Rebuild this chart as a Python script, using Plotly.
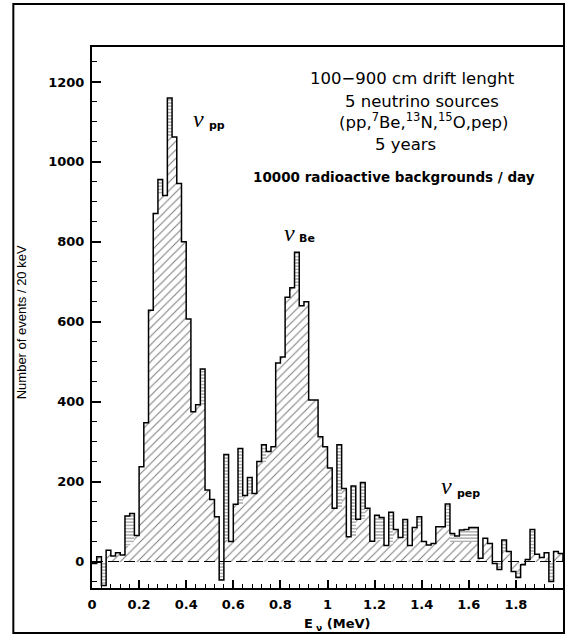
import plotly.graph_objects as go

# ---------------- data ----------------
bin_width = 0.02
bin_start = 0.0
# number of events per 20 keV bin (outline histogram)
total_counts = [-5, 12, -60, 28, 14, 22, 16, 114, 120, 65,
                237, 347, 629, 871, 956, 916, 1160, 1062, 946, 800,
                607, 375, 392, 482, 179, 155, 112, -46, 268, 50,
                143, 283, 165, 210, 170, 250, 292, 275, 287, 497,
                512, 661, 685, 774, 640, 650, 404, 404, 312, 287,
                234, 133, 292, 183, 62, 189, 106, 198, 133, 51,
                116, 110, 40, 123, 80, 60, 105, 40, 85, 112,
                50, 41, 45, 87, 87, 144, 70, 64, 79, 80,
                85, 85, 8, 58, 45, -5, -20, 54, 25, -25,
                -40, -8, 5, 80, 18, 10, 22, -50, 25, 20]
# level of the diagonally hatched part of each bin
diag_counts = [0, 12, 0, 28, 14, 22, 16, 40, 45, 65,
               237, 347, 629, 871, 916, 916, 1062, 1062, 946, 800,
               607, 375, 392, 392, 179, 155, 112, 0, 55, 50,
               143, 143, 165, 165, 170, 250, 250, 275, 287, 497,
               512, 661, 685, 685, 640, 650, 404, 404, 312, 287,
               234, 133, 133, 183, 62, 62, 106, 106, 133, 51,
               55, 55, 40, 45, 80, 60, 60, 40, 85, 85,
               50, 41, 45, 87, 87, 87, 50, 50, 50, 50,
               50, 50, 8, 58, 45, 0, 0, 25, 25, -25,
               -25, 0, 5, 20, 18, 10, 22, 0, 25, 20]
x_tick_vals = [0, 0.2, 0.4, 0.6, 0.8, 1.0, 1.2, 1.4, 1.6, 1.8]
x_tick_text = ["0", "0.2", "0.4", "0.6", "0.8", "1", "1.2", "1.4", "1.6", "1.8"]
y_tick_vals = [0, 200, 400, 600, 800, 1000, 1200]
y_tick_text = ["0", "200", "400", "600", "800", "1000", "1200"]

n = len(total_counts)
edges = [round(bin_start + i * bin_width, 4) for i in range(n + 1)]
centers = [round(e + bin_width / 2, 4) for e in edges[:-1]]

def clip_diag(d, s):
    if d >= 0:
        return max(0, min(s, d))
    return min(0, max(s, d))

diag_shown = [clip_diag(d, s) for d, s in zip(total_counts, diag_counts)]

# ---------------- geometry (pixels) ----------------
W, H = 568, 636
L, R, T, B = 92, 565, 47, 588

def px(x):
    return (x - L) / (R - L)

def py(y):
    return (B - y) / (B - T)

fig = go.Figure()

fig.add_trace(go.Bar(
    x=centers, y=total_counts, width=bin_width,
    marker=dict(color="white", line=dict(width=0),
                pattern=dict(shape="-", fgcolor="black", bgcolor="white",
                             size=3.2, solidity=0.3, fillmode="overlay")),
    hoverinfo="skip", showlegend=False))

fig.add_trace(go.Bar(
    x=centers, y=diag_shown, width=bin_width,
    marker=dict(color="white", line=dict(width=0),
                pattern=dict(shape="/", fgcolor="black", bgcolor="white",
                             size=6, solidity=0.18, fillmode="overlay")),
    hoverinfo="skip", showlegend=False))

# zero dashed line
fig.add_trace(go.Scatter(
    x=[edges[0], edges[-1]], y=[0, 0], mode="lines",
    line=dict(color="black", width=1, dash="11px,5px"),
    hoverinfo="skip", showlegend=False))

# histogram outline
ox = [edges[0]] + edges[:-1] + [edges[-1], edges[-1]]
oy = [0] + total_counts + [total_counts[-1], 0]
fig.add_trace(go.Scatter(
    x=ox, y=oy, mode="lines", line=dict(color="black", width=1.5, shape="hv"),
    hoverinfo="skip", showlegend=False))

tick_font = dict(family="DejaVu Sans", size=13, color="black", weight="bold")

fig.update_layout(
    width=W, height=H,
    margin=dict(l=L, r=W - R, t=T, b=H - B),
    paper_bgcolor="white", plot_bgcolor="white",
    barmode="overlay", bargap=0,
    xaxis=dict(range=[0, 2.0], tickvals=x_tick_vals, ticktext=x_tick_text,
               ticks="inside", ticklen=8, tickwidth=1.5, tickcolor="black",
               minor=dict(dtick=0.04, tick0=0, ticks="inside", ticklen=4,
                          tickwidth=1, tickcolor="black"),
               showline=True, linewidth=2, linecolor="black", mirror=True,
               showgrid=False, zeroline=False, tickfont=tick_font,
               ticklabelstandoff=3),
    yaxis=dict(range=[-66.3, 1287.5], tickvals=y_tick_vals, ticktext=y_tick_text,
               ticks="inside", ticklen=9, tickwidth=1.5, tickcolor="black",
               minor=dict(dtick=50, tick0=0, ticks="inside", ticklen=5,
                          tickwidth=1, tickcolor="black"),
               showline=True, linewidth=2, linecolor="black", mirror=True,
               showgrid=False, zeroline=False, tickfont=tick_font,
               ticklabelstandoff=3),
)

ann = []

def add_text(text, x, y, size, family="DejaVu Sans", bold=False, xanchor="center",
             italic=False):
    ann.append(dict(text=text, x=px(x), y=py(y), xref="paper", yref="paper",
                    showarrow=False, xanchor=xanchor, yanchor="middle",
                    font=dict(family=family, size=size, color="black",
                              weight="bold" if bold else "normal",
                              style="italic" if italic else "normal")))

add_text("100\u2212900 cm drift lenght", 414, 79, 16.5)
add_text("5 neutrino sources", 423, 101, 16.5)
add_text("(pp,<sup>7</sup>Be,<sup>13</sup>N,<sup>15</sup>O,pep)", 425, 121, 16.5)
add_text("5 years", 407, 144, 16.5)
add_text("10000 radioactive backgrounds / day", 252, 177, 13.5, bold=True,
         xanchor="left")

# neutrino labels
add_text("\u03bd", 199, 119, 24, family="Liberation Serif", italic=True)
add_text("pp", 207, 126, 11, bold=True, xanchor="left")
add_text("\u03bd", 290, 233, 24, family="Liberation Serif", italic=True)
add_text("Be", 298, 238, 11, bold=True, xanchor="left")
add_text("\u03bd", 448, 486, 24, family="Liberation Serif", italic=True)
add_text("pep", 457, 493, 11, bold=True, xanchor="left")

# axis titles
add_text("E<sub> \u03bd</sub> (MeV)", 339, 624, 13, bold=True)
ann.append(dict(text="Number of events / 20 keV", x=px(21), y=py(322),
                xref="paper", yref="paper", showarrow=False, textangle=-90,
                xanchor="center", yanchor="middle",
                font=dict(family="Liberation Sans", size=13, color="black")))

fig.update_layout(annotations=ann)

# outer frame
fig.add_shape(type="rect", xref="paper", yref="paper",
              x0=px(13), x1=px(566), y0=py(633), y1=py(4),
              line=dict(color="black", width=2), fillcolor="rgba(0,0,0,0)")

fig.write_html("out.html")
